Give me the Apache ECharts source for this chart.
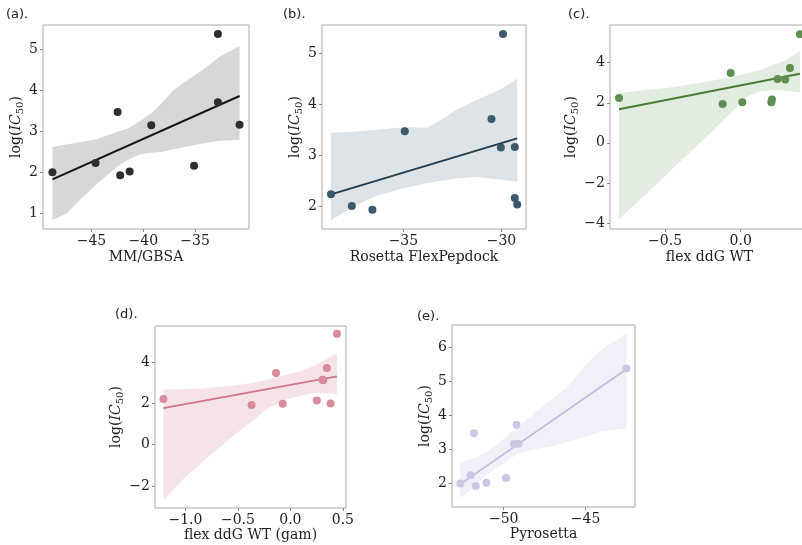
<!DOCTYPE html>
<html>
<head>
<meta charset="utf-8">
<script src="https://cdn.jsdelivr.net/npm/echarts@6/dist/echarts.min.js"></script>
<style>
html, body { margin: 0; padding: 0; background: #fff; }
#main { width: 802px; height: 545px; }
</style>
</head>
<body>
<div id="main"></div>
<script>
// (a) MM/GBSA
var aX = [-48.77, -44.61, -42.48, -42.23, -41.32, -39.23, -35.1, -32.8, -32.8, -30.71];
var aY = [2.0, 2.23, 3.47, 1.93, 2.02, 3.15, 2.16, 5.37, 3.71, 3.16];
var aFit = [[-48.77, 1.83], [-30.71, 3.86]];
var aBandX = [-48.77, -47.4, -46.1, -44.6, -42.5, -41.5, -40.3, -39.2, -38.1, -37.1, -35.8, -34.5, -33.2, -32.6, -30.71];
var aBandHi = [2.62, 2.68, 2.74, 2.80, 2.99, 3.07, 3.25, 3.44, 3.72, 4.0, 4.24, 4.46, 4.7, 4.82, 5.08];
var aBandLo = [0.84, 1.0, 1.33, 1.69, 2.14, 2.3, 2.44, 2.48, 2.5, 2.56, 2.63, 2.69, 2.75, 2.77, 2.79];
var aXTicks = [-45, -40, -35];
var aYTicks = [1, 2, 3, 4, 5];

// (b) Rosetta FlexPepdock
var bX = [-38.69, -37.63, -36.58, -34.93, -30.51, -30.03, -29.92, -29.32, -29.32, -29.2];
var bY = [2.23, 2.0, 1.93, 3.47, 3.71, 3.15, 5.38, 3.16, 2.16, 2.03];
var bFit = [[-38.69, 2.23], [-29.2, 3.33]];
var bBandX = [-38.69, -37.5, -36.4, -35.0, -33.8, -33.0, -32.3, -31.3, -30.1, -29.2];
var bBandHi = [3.44, 3.46, 3.5, 3.55, 3.54, 3.71, 3.89, 4.08, 4.28, 4.50];
var bBandLo = [1.72, 2.0, 2.2, 2.35, 2.45, 2.5, 2.54, 2.57, 2.52, 2.48];
var bXTicks = [-35, -30];
var bYTicks = [2, 3, 4, 5];

// (c) flex ddG WT
var cX = [-0.804, -0.119, -0.066, 0.011, 0.203, 0.207, 0.244, 0.295, 0.326, 0.392];
var cY = [2.24, 1.94, 3.49, 2.02, 2.03, 2.16, 3.18, 3.16, 3.73, 5.42];
var cFit = [[-0.804, 1.68], [0.392, 3.45]];
var cBandX = [-0.804, -0.665, -0.445, -0.225, -0.048, 0.0, 0.04, 0.128, 0.216, 0.304, 0.392];
var cBandHi = [2.47, 2.6, 2.77, 3.05, 3.3, 3.39, 3.46, 3.63, 3.88, 4.13, 4.6];
var cBandLo = [-3.8, -2.84, -1.26, 0.32, 1.64, 2.0, 2.3, 2.56, 2.64, 2.6, 2.51];
var cXTicks = [-0.5, 0.0];
var cYTicks = [-4, -2, 0, 2, 4];

// (d) flex ddG WT (gam)
var dX = [-1.21, -0.37, -0.137, -0.073, 0.252, 0.306, 0.313, 0.348, 0.383, 0.444];
var dY = [2.21, 1.92, 3.47, 1.98, 2.14, 3.14, 3.12, 3.71, 1.99, 5.37];
var dFit = [[-1.21, 1.77], [0.444, 3.31]];
var dBandX = [-1.21, -1.02, -0.86, -0.54, -0.38, -0.22, -0.06, 0.0, 0.1, 0.16, 0.26, 0.29, 0.444];
var dBandHi = [2.66, 2.68, 2.71, 2.87, 2.98, 3.15, 3.36, 3.44, 3.57, 3.68, 3.9, 4.0, 4.41];
var dBandLo = [-2.69, -1.67, -0.94, 0.44, 1.09, 1.74, 2.14, 2.25, 2.38, 2.44, 2.51, 2.5, 2.46];
var dXTicks = [-1.0, -0.5, 0.0, 0.5];
var dYTicks = [-2, 0, 2, 4];

// (e) Pyrosetta
var eX = [-52.65, -52.02, -51.82, -51.71, -51.06, -49.86, -49.37, -49.22, -49.10, -42.51];
var eY = [2.0, 2.24, 3.48, 1.93, 2.02, 2.16, 3.16, 3.73, 3.17, 5.38];
var eFit = [[-52.65, 1.98], [-42.51, 5.36]];
var eBandX = [-52.65, -51.6, -51.2, -50.2, -49.1, -48.16, -47.14, -46.1, -45.1, -44.08, -42.51];
var eBandHi = [2.62, 2.78, 2.88, 3.23, 3.67, 4.06, 4.45, 4.84, 5.43, 5.92, 6.41];
var eBandLo = [1.56, 2.0, 2.2, 2.54, 2.88, 3.0, 3.08, 3.23, 3.37, 3.52, 3.62];
var eXTicks = [-50, -45];
var eYTicks = [2, 3, 4, 5, 6];

var panels = [
  {label: '(a).', name: 'MM/GBSA', x: aX, y: aY, fit: aFit, bx: aBandX, lo: aBandLo, hi: aBandHi,
   xt: aXTicks, yt: aYTicks, xdec: 0,
   grid: {left: 43, top: 25, width: 206, height: 204}, xr: [-49.68, -29.8], yr: [0.62, 5.59],
   lab: [6, 8], yGap: 16, xGap: 21,
   dot: '#2e2e2e', line: '#151515', band: '#d6d8d7'},
  {label: '(b).', name: 'Rosetta FlexPepdock', x: bX, y: bY, fit: bFit, bx: bBandX, lo: bBandLo, hi: bBandHi,
   xt: bXTicks, yt: bYTicks, xdec: 0,
   grid: {left: 322, top: 25, width: 204, height: 204}, xr: [-39.15, -28.75], yr: [1.55, 5.556],
   lab: [283, 8], yGap: 18, xGap: 21,
   dot: '#3c5a6b', line: '#223f50', band: '#dde3e7'},
  {label: '(c).', name: 'flex ddG WT', x: cX, y: cY, fit: cFit, bx: cBandX, lo: cBandLo, hi: cBandHi,
   xt: cXTicks, yt: cYTicks, xdec: 1,
   grid: {left: 610, top: 25, width: 199, height: 204}, xr: [-0.864, 0.452], yr: [-4.3, 5.88],
   lab: [568, 8], yGap: 28, xGap: 21,
   dot: '#5f8f50', line: '#4a7c34', band: '#e3ece0'},
  {label: '(d).', name: 'flex ddG WT (gam)', x: dX, y: dY, fit: dFit, bx: dBandX, lo: dBandLo, hi: dBandHi,
   xt: dXTicks, yt: dYTicks, xdec: 1,
   grid: {left: 155, top: 326, width: 191, height: 182}, xr: [-1.29, 0.53], yr: [-3.07, 5.75],
   lab: [115, 308], yGap: 27, xGap: 18,
   dot: '#d98b9b', line: '#d47488', band: '#f6e3e7'},
  {label: '(e).', name: 'Pyrosetta', x: eX, y: eY, fit: eFit, bx: eBandX, lo: eBandLo, hi: eBandHi,
   xt: eXTicks, yt: eYTicks, xdec: 0,
   grid: {left: 452, top: 325, width: 183, height: 182}, xr: [-53.16, -41.98], yr: [1.31, 6.66],
   lab: [417, 310], yGap: 16, xGap: 18,
   dot: '#c9c7e3', line: '#bdbbdf', band: '#f1f0f8'}
];

var serif = 'DejaVu Serif';
var spine = '#aaaaaa';

function fmt(dec) {
  return function (v) {
    return Number(v).toFixed(dec).replace('-', '\u2212');
  };
}

function bandRender(p) {
  return function (params, api) {
    if (params.dataIndex !== 0) return null;
    var pts = [];
    for (var i = 0; i < p.bx.length; i++) pts.push(api.coord([p.bx[i], p.hi[i]]));
    for (var j = p.bx.length - 1; j >= 0; j--) pts.push(api.coord([p.bx[j], p.lo[j]]));
    return {type: 'polygon', shape: {points: pts}, style: {fill: p.band}, silent: true};
  };
}

var option = {
  animation: false,
  backgroundColor: '#ffffff',
  title: [], grid: [], xAxis: [], yAxis: [], series: []
};

panels.forEach(function (p, k) {
  option.title.push({
    text: p.label, left: p.lab[0], top: p.lab[1], padding: 0,
    textStyle: {fontFamily: 'DejaVu Sans', fontSize: 13, fontWeight: 'normal', color: '#222'}
  });
  option.grid.push(Object.assign({
    show: true, borderColor: spine, borderWidth: 1, backgroundColor: 'transparent',
    containLabel: false, outerBoundsMode: 'none'
  }, p.grid));
  option.xAxis.push({
    type: 'value', gridIndex: k, min: p.xr[0], max: p.xr[1],
    name: p.name, nameLocation: 'middle', nameGap: p.xGap,
    nameTextStyle: {fontFamily: serif, fontSize: 14, color: '#222'},
    axisLine: {show: false, onZero: false},
    splitLine: {show: false},
    axisTick: {show: true, inside: false, length: 3, lineStyle: {color: '#888'}, customValues: p.xt},
    axisLabel: {fontFamily: serif, fontSize: 14, color: '#222', margin: 5, customValues: p.xt, formatter: fmt(p.xdec)}
  });
  option.yAxis.push({
    type: 'value', gridIndex: k, min: p.yr[0], max: p.yr[1],
    name: '{n|log(}{i|IC}{s|50}{n|)}', nameLocation: 'middle', nameGap: p.yGap, nameRotate: 90,
    nameTextStyle: {
      fontFamily: serif, fontSize: 14, color: '#222',
      rich: {
        n: {fontFamily: serif, fontSize: 14, color: '#222', lineHeight: 18, verticalAlign: 'middle'},
        i: {fontFamily: serif, fontSize: 14, fontStyle: 'italic', color: '#222', lineHeight: 18, verticalAlign: 'middle'},
        s: {fontFamily: serif, fontSize: 10, color: '#222', lineHeight: 18, verticalAlign: 'bottom'}
      }
    },
    axisLine: {show: false, onZero: false},
    splitLine: {show: false},
    axisTick: {show: true, inside: false, length: 3, lineStyle: {color: '#888'}, customValues: p.yt},
    axisLabel: {fontFamily: serif, fontSize: 14, color: '#222', margin: 5, customValues: p.yt, formatter: fmt(0)}
  });
  option.series.push({
    type: 'custom', xAxisIndex: k, yAxisIndex: k, z: 1,
    renderItem: bandRender(p),
    encode: {x: 0, y: [1, 2]},
    data: p.bx.map(function (x, i) { return [x, p.lo[i], p.hi[i]]; })
  });
  option.series.push({
    type: 'line', xAxisIndex: k, yAxisIndex: k, z: 2, symbol: 'none',
    lineStyle: {color: p.line, width: k < 3 ? 2 : 1.6},
    data: p.fit
  });
  option.series.push({
    type: 'scatter', xAxisIndex: k, yAxisIndex: k, z: 3, symbolSize: 8,
    itemStyle: {color: p.dot, opacity: 1},
    data: p.x.map(function (x, i) { return [x, p.y[i]]; })
  });
});

var myChart = echarts.init(document.getElementById('main'));
myChart.setOption(option);
</script>
</body>
</html>
